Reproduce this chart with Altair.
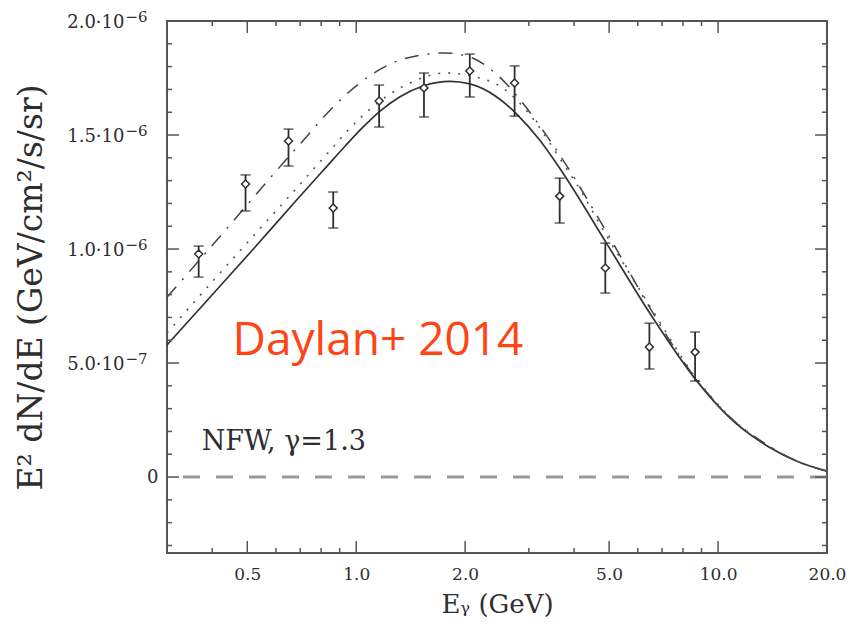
import altair as alt
import pandas as pd

# ---------------- data (values in units of 1e-6) ----------------
solid_e = [0.300, 0.4088, 0.5169, 0.6923, 0.8214, 0.9326, 1.0388, 1.1644, 1.3215, 1.5297,
           1.8154, 2.0606, 2.4453, 2.7768, 3.2137, 3.6475, 4.9145, 6.5809, 8.6979, 10.723,
           13.818, 16.714, 20.0]
solid_v = [0.579, 0.816, 0.996, 1.224, 1.355, 1.452, 1.531, 1.605, 1.668, 1.715,
           1.735, 1.724, 1.667, 1.592, 1.478, 1.355, 1.026, 0.702, 0.425, 0.263,
           0.132, 0.066, 0.026]

dash_e = [0.300, 0.4166, 0.5979, 0.7237, 0.848, 1.0064, 1.2406, 1.5789, 1.7588, 2.0606, 2.4925,
          2.8846, 3.3803, 3.8858, 4.4116, 5.0085, 5.6858, 6.4565, 8.6979, 10.723, 13.818, 16.714, 20.0]
dash_v = [0.789, 1.048, 1.338, 1.487, 1.610, 1.719, 1.811, 1.855, 1.860, 1.842, 1.754,
          1.640, 1.491, 1.346, 1.202, 1.053, 0.899, 0.746, 0.430, 0.267, 0.136, 0.066, 0.026]

dot_e = [0.300, 0.4038, 0.5169, 0.6579, 0.8214, 0.9626, 1.0928, 1.2406, 1.4085, 1.7588, 2.2381,
         2.4925, 2.7768, 3.1718, 3.6475, 4.1945, 4.7610, 5.5081, 6.4565, 8.6979, 10.723, 13.818,
         16.714, 20.0]
dot_v = [0.632, 0.864, 1.053, 1.237, 1.408, 1.531, 1.614, 1.680, 1.728, 1.772, 1.746,
         1.715, 1.654, 1.544, 1.399, 1.250, 1.096, 0.930, 0.754, 0.434, 0.268, 0.136,
         0.066, 0.026]

pt_e = [0.367, 0.4945, 0.650, 0.864, 1.157, 1.539, 2.06, 2.74, 3.65, 4.88, 6.46, 8.64]
pt_v = [0.978, 1.285, 1.474, 1.180, 1.649, 1.706, 1.781, 1.728, 1.232, 0.917, 0.570, 0.548]
pt_hi = [1.013, 1.325, 1.526, 1.250, 1.719, 1.772, 1.855, 1.803, 1.311, 1.026, 0.675, 0.636]
pt_lo = [0.877, 1.167, 1.364, 1.092, 1.535, 1.579, 1.667, 1.583, 1.114, 0.807, 0.474, 0.421]

x_major = [0.5, 1.0, 2.0, 5.0, 10.0, 20.0]
x_minor = [0.4, 0.6, 0.7, 0.8, 0.9, 3.0, 4.0, 6.0, 7.0, 8.0, 9.0]
y_major = [0.0, 0.5, 1.0, 1.5, 2.0]
y_labelled = [0.5, 1.0, 1.5, 2.0]
y_minor = [-0.3, -0.2, -0.1, 0.1, 0.2, 0.3, 0.4, 0.6, 0.7, 0.8, 0.9,
           1.1, 1.2, 1.3, 1.4, 1.6, 1.7, 1.8, 1.9]

x_domain = [0.3, 20.0]
y_domain = [-0.333, 2.0]

# ---------------- styling ----------------
FRAME = '#555555'
INK = '#2e2e2e'
SERIF = 'DejaVu Serif'
W, H = 660, 532
MAJ, MIN = 12, 5


def xs():
    return alt.Scale(type='log', domain=x_domain, nice=False)


def ys():
    return alt.Scale(domain=y_domain, nice=False, zero=False)


def label_axis(orient, values, **kw):
    base = dict(orient=orient, values=values, ticks=False, tickSize=0, domain=False,
                grid=False, labelFlush=False, labelOverlap=False, labelFont=SERIF,
                labelColor=INK)
    base.update(kw)
    return alt.Axis(**base)


ax_x_bottom = label_axis('bottom', x_major, format='.1f', labelFontSize=17, labelPadding=13,
                         title='Eᵧ  (GeV)', titleFont=SERIF, titleFontSize=26,
                         titleFontWeight='normal', titleColor=INK, titlePadding=9)
ax_y_mant = label_axis('left', y_labelled, labelFontSize=18, labelPadding=43, labelOffset=1,
                       labelExpr="abs(datum.value - 0.5) < 1e-9 ? '5.0·10' : format(datum.value, '.1f') + '·10'",
                       title='E²  dN/dE  (GeV/cm²/s/sr)', titleFont=SERIF, titleFontSize=33,
                       titleFontWeight='normal', titleColor=INK, titlePadding=18)
ax_y_exp = label_axis('left', y_labelled, labelFontSize=15, labelPadding=20, labelOffset=-5,
                      labelExpr="abs(datum.value - 0.5) < 1e-9 ? '−7' : '−6'", title=None)
ax_y_zero = label_axis('left', [0.0], labelFontSize=18, labelPadding=9, format='d', title=None)

solid_df = pd.DataFrame({'E': solid_e, 'v': solid_v})
dash_df = pd.DataFrame({'E': dash_e, 'v': dash_v})
dot_df = pd.DataFrame({'E': dot_e, 'v': dot_v})
pts_df = pd.DataFrame({'E': pt_e, 'v': pt_v, 'hi': pt_hi, 'lo': pt_lo})

solid = alt.Chart(solid_df).mark_line(color='#333333', strokeWidth=1.7,
                                      interpolate='monotone', clip=True).encode(
    x=alt.X('E:Q', scale=xs(), axis=ax_x_bottom),
    y=alt.Y('v:Q', scale=ys(), axis=ax_y_mant),
)

dashdot = alt.Chart(dash_df).mark_line(color='#444444', strokeWidth=1.5,
                                       strokeDash=[14, 9, 2, 9],
                                       interpolate='monotone', clip=True).encode(
    x=alt.X('E:Q', scale=xs(), axis=None),
    y=alt.Y('v:Q', scale=ys(), axis=ax_y_exp),
)

dotted = alt.Chart(dot_df).mark_line(color='#555555', strokeWidth=1.6,
                                     strokeDash=[2, 8],
                                     interpolate='monotone', clip=True).encode(
    x=alt.X('E:Q', scale=xs(), axis=None),
    y=alt.Y('v:Q', scale=ys(), axis=ax_y_zero),
)

bars = alt.Chart(pts_df).mark_rule(color=INK, strokeWidth=1.8).encode(
    x=alt.X('E:Q', scale=xs(), axis=None),
    y=alt.Y('lo:Q', scale=ys(), axis=None),
    y2='hi:Q',
)
cap_hi = alt.Chart(pts_df).mark_tick(color=INK, orient='horizontal', size=10,
                                     thickness=1.6).encode(
    x=alt.X('E:Q', scale=xs(), axis=None),
    y=alt.Y('hi:Q', scale=ys(), axis=None),
)
cap_lo = alt.Chart(pts_df).mark_tick(color=INK, orient='horizontal', size=10,
                                     thickness=1.6).encode(
    x=alt.X('E:Q', scale=xs(), axis=None),
    y=alt.Y('lo:Q', scale=ys(), axis=None),
)
points = alt.Chart(pts_df).mark_point(shape='diamond', filled=True, fill='white',
                                      stroke=INK, strokeWidth=1.5, size=64,
                                      opacity=1).encode(
    x=alt.X('E:Q', scale=xs(), axis=None),
    y=alt.Y('v:Q', scale=ys(), axis=None),
)

zero = alt.Chart(pd.DataFrame({'z': [0.0]})).mark_rule(
    color='#999999', strokeWidth=3, strokeDash=[17, 16]).encode(
    y=alt.Y('z:Q', scale=ys(), axis=None),
)


# ---- inward frame ticks (positions along the axis from the scales) ----
def xticks(values, edge_from, edge_to):
    return alt.Chart(pd.DataFrame({'t': values})).mark_rule(
        color=FRAME, strokeWidth=1.5).encode(
        x=alt.X('t:Q', scale=xs(), axis=None),
        y=alt.value(edge_from), y2=alt.value(edge_to))


def yticks(values, edge_from, edge_to):
    return alt.Chart(pd.DataFrame({'t': values})).mark_rule(
        color=FRAME, strokeWidth=1.5).encode(
        y=alt.Y('t:Q', scale=ys(), axis=None),
        x=alt.value(edge_from), x2=alt.value(edge_to))


tick_layers = [
    xticks(x_major, H, H - MAJ), xticks(x_minor, H, H - MIN),
    xticks(x_major, 0, MAJ), xticks(x_minor, 0, MIN),
    yticks(y_major, 0, MAJ), yticks(y_minor, 0, MIN),
    yticks(y_major, W, W - MAJ), yticks(y_minor, W, W - MIN),
]

nfw_df = pd.DataFrame({'E': [0.374], 'v': [0.118], 't': ['NFW, γ=1.3']})
nfw = alt.Chart(nfw_df).mark_text(align='left', baseline='alphabetic', font=SERIF,
                                  fontSize=27, color=INK).encode(
    x=alt.X('E:Q', scale=xs(), axis=None),
    y=alt.Y('v:Q', scale=ys(), axis=None),
    text='t:N',
)

day_df = pd.DataFrame({'E': [0.4554], 'v': [0.535], 't': ['Daylan+ 2014']})
daylan = alt.Chart(day_df).mark_text(align='left', baseline='alphabetic',
                                     font='Open Sans', fontSize=46,
                                     color='#fc4616').encode(
    x=alt.X('E:Q', scale=xs(), axis=None),
    y=alt.Y('v:Q', scale=ys(), axis=None),
    text='t:N',
)

chart = alt.layer(
    solid, dashdot, dotted, zero, *tick_layers, bars, cap_hi, cap_lo, points, nfw, daylan
).resolve_scale(
    x='independent', y='independent'
).properties(
    width=W, height=H,
    autosize=alt.AutoSizeParams(type='none'),
    padding={'left': 167, 'top': 21, 'right': 24, 'bottom': 75},
    background='white',
).configure_view(
    stroke=FRAME, strokeWidth=2,
)

chart.save('out.html', embed_options={'renderer': 'svg', 'actions': False})
